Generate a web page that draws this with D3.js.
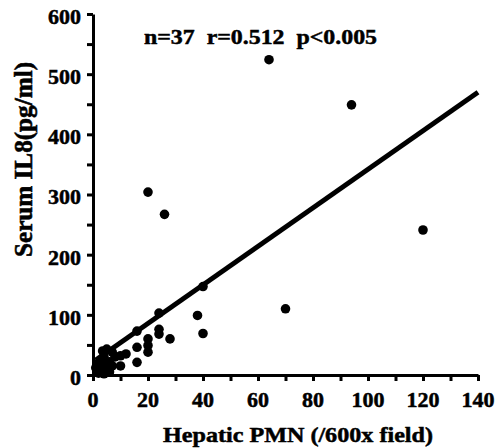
<!DOCTYPE html>
<html>
<head>
<meta charset="utf-8">
<script src="https://cdn.jsdelivr.net/npm/d3@7"></script>
<style>
  body { margin: 0; background: #fff; }
  svg text { font-family: "Liberation Serif", "Times New Roman", serif; font-weight: bold; fill: #000;
             stroke: #000; stroke-width: 0.5px; }
</style>
</head>
<body>
<div id="chart"></div>
<script>
// hepatic PMN per 600x field vs serum IL8 (pg/ml)
var pmnValues = [64, 94, 20, 26, 120, 70, 40, 38, 40, 24, 24, 24, 28, 20, 20, 20, 16, 16, 16, 12, 10,
                 5, 3.5, 7, 4, 8, 10, 2, 4, 6, 1, 3, 5, 7, 2, 4, 6];
var il8Values = [524, 449, 304, 267, 241, 110, 147, 99, 69, 103, 76, 68, 60, 60, 49, 38, 73, 46, 21, 35, 15,
                 43, 40, 38, 30, 30, 32, 20, 18, 22, 12, 8, 10, 15, 3, 2, 5];
var fitLine = [[1, 25], [140, 470]];
var xTicks = [0, 10, 20, 30, 40, 50, 60, 70, 80, 90, 100, 110, 120, 130, 140];
var yTicks = [0, 50, 100, 150, 200, 250, 300, 350, 400, 450, 500, 550, 600];
var xLabels = [0, 20, 40, 60, 80, 100, 120, 140];
var yLabels = [0, 100, 200, 300, 400, 500, 600];
var statsText = "n=37  r=0.512  p<0.005";

var width = 502, height = 448;

var svg = d3.select("#chart").append("svg")
    .attr("width", width)
    .attr("height", height);

var x = d3.scaleLinear().domain([0, 140]).range([93, 478]);
var y = d3.scaleLinear().domain([0, 600]).range([375, 14]);

var xAxis = d3.axisBottom(x).tickValues(xTicks).tickSize(6).tickSizeOuter(0).tickFormat("");
var yAxis = d3.axisLeft(y).tickValues(yTicks).tickSize(6).tickSizeOuter(0).tickFormat("");

var gx = svg.append("g").attr("transform", "translate(0," + y(0) + ")").call(xAxis);
var gy = svg.append("g").attr("transform", "translate(" + x(0) + ",0)").call(yAxis);

[gx, gy].forEach(function(g) {
    g.select(".domain").attr("stroke", "#000").attr("stroke-width", 3);
    g.selectAll(".tick line").attr("stroke", "#000").attr("stroke-width", 3);
});

// tick labels
svg.selectAll("text.xlab")
    .data(xLabels)
    .enter().append("text")
        .attr("class", "xlab")
        .attr("x", function(d) { return x(d); })
        .attr("y", y(0) + 32)
        .attr("text-anchor", "middle")
        .attr("font-size", 22)
        .text(function(d) { return d; });

svg.selectAll("text.ylab")
    .data(yLabels)
    .enter().append("text")
        .attr("class", "ylab")
        .attr("x", x(0) - 12)
        .attr("y", function(d) { return y(d); })
        .attr("dy", "0.45em")
        .attr("text-anchor", "end")
        .attr("font-size", 22)
        .text(function(d) { return d; });

// regression line
svg.append("line")
    .attr("x1", x(fitLine[0][0])).attr("y1", y(fitLine[0][1]))
    .attr("x2", x(fitLine[1][0])).attr("y2", y(fitLine[1][1]))
    .attr("stroke", "#000")
    .attr("stroke-width", 5);

svg.selectAll("circle.pt")
    .data(d3.zip(pmnValues, il8Values))
    .enter().append("circle")
        .attr("class", "pt")
        .attr("cx", function(d) { return x(d[0]); })
        .attr("cy", function(d) { return y(d[1]); })
        .attr("r", 4.8)
        .attr("fill", "#000");

svg.append("text")
    .attr("x", 144).attr("y", 44)
    .attr("font-size", 22)
    .attr("textLength", 233)
    .attr("lengthAdjust", "spacingAndGlyphs")
    .style("white-space", "pre")
    .text(statsText);

svg.append("text")
    .attr("x", 163).attr("y", 442)
    .attr("font-size", 22)
    .attr("textLength", 270)
    .attr("lengthAdjust", "spacingAndGlyphs")
    .text("Hepatic PMN (/600x field)");

svg.append("text")
    .attr("transform", "translate(32,159.5) scale(1.15,1) rotate(-90)")
    .attr("text-anchor", "middle")
    .attr("font-size", 22)
    .attr("textLength", 195)
    .attr("lengthAdjust", "spacingAndGlyphs")
    .text("Serum IL8(pg/ml)");
</script>
</body>
</html>
